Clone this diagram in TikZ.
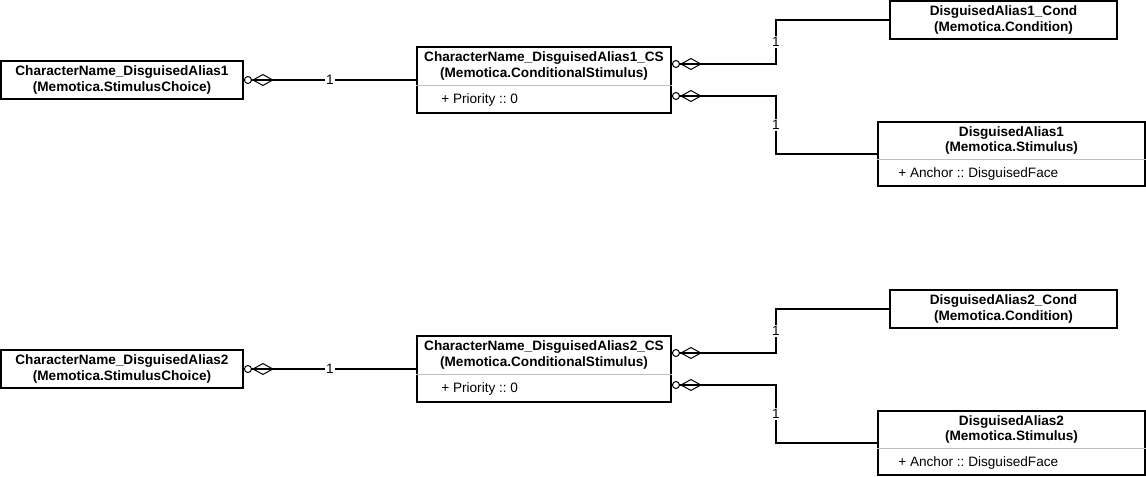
\documentclass[tikz,border=0pt]{standalone}
\usepackage{fontspec}
\setmainfont{Liberation Sans}
\usetikzlibrary{positioning,arrows.meta}

\tikzset{
  cls/.style={draw, line width=1.4pt, inner sep=0pt},
  title/.style={font=\fontsize{10.2}{11.75}\selectfont\bfseries, align=center, inner sep=0pt, minimum height=29.25pt},
  attr/.style={font=\fontsize{10.2}{11.75}\selectfont\frenchspacing, inner sep=0pt, minimum height=20pt},
  sep/.style={draw=black!25, line width=0.6pt},
  agg/.style={line width=1.4pt, {Circle[open,length=6pt,line width=0.75pt]Diamond[open,length=16.5pt,width=9pt,line width=0.75pt]}-},
  mult/.style={font=\fontsize{10.2}{11.75}\selectfont, fill=white, inner sep=1pt},
}

\begin{document}
\begin{tikzpicture}[x=0.75pt, y=-0.75pt]
		\useasboundingbox[fill=white] (0,0) rectangle (1146,477);
		\coordinate (knee) at (776,0);

		% first alias
		\node[cls, title, minimum width=181.5pt, minimum height=28.5pt] (choice1) at (122,80) {CharacterName\_DisguisedAlias1\\(Memotica.StimulusChoice)};
		\node[cls, minimum width=190.5pt, minimum height=49.5pt] (cs1) at (544,80) {};
		\node[title, below=0pt of cs1.north] (cs1t) {CharacterName\_DisguisedAlias1\_CS\\(Memotica.ConditionalStimulus)};
		\node[attr, above right=0pt and 18.75pt of cs1.south west] (cs1a) {+ Priority :: 0};
		\draw[sep] (cs1t.south -| cs1.west) -- (cs1t.south -| cs1.east);

		\node[cls, title, minimum width=170.25pt, minimum height=28.5pt] (cond1) at (1003.5,20) {DisguisedAlias1\_Cond\\(Memotica.Condition)};
		\node[cls, minimum width=200.25pt, minimum height=48pt] (stim1) at (1011.5,154) {};
		\node[title, below=0pt of stim1.north, minimum height=28.5pt] (stim1t) {DisguisedAlias1\\(Memotica.Stimulus)};
		\node[attr, above right=0pt and 15.75pt of stim1.south west, minimum height=19.5pt] (stim1a) {+ Anchor :: DisguisedFace};
		\draw[sep] (stim1t.south -| stim1.west) -- (stim1t.south -| stim1.east);

		\draw[agg] (choice1.east) -- node[mult] {1} (cs1.west);
		\draw[agg] ([yshift=12pt]cs1.east) -- ([yshift=12pt]cs1.east -| knee) -- node[mult] {1} (knee |- cond1.west) -- (cond1.west);
		\draw[agg] ([yshift=-12pt]cs1.east) -- ([yshift=-12pt]cs1.east -| knee) -- node[mult] {1} (knee |- stim1.west) -- (stim1.west);

		% second alias
		\node[cls, title, minimum width=181.5pt, minimum height=28.5pt] (choice2) at (122,369) {CharacterName\_DisguisedAlias2\\(Memotica.StimulusChoice)};
		\node[cls, minimum width=190.5pt, minimum height=49.5pt] (cs2) at (544,369) {};
		\node[title, below=0pt of cs2.north] (cs2t) {CharacterName\_DisguisedAlias2\_CS\\(Memotica.ConditionalStimulus)};
		\node[attr, above right=0pt and 18.75pt of cs2.south west] (cs2a) {+ Priority :: 0};
		\draw[sep] (cs2t.south -| cs2.west) -- (cs2t.south -| cs2.east);

		\node[cls, title, minimum width=170.25pt, minimum height=28.5pt] (cond2) at (1003.5,309) {DisguisedAlias2\_Cond\\(Memotica.Condition)};
		\node[cls, minimum width=200.25pt, minimum height=48pt] (stim2) at (1011.5,443) {};
		\node[title, below=0pt of stim2.north, minimum height=28.5pt] (stim2t) {DisguisedAlias2\\(Memotica.Stimulus)};
		\node[attr, above right=0pt and 15.75pt of stim2.south west, minimum height=19.5pt] (stim2a) {+ Anchor :: DisguisedFace};
		\draw[sep] (stim2t.south -| stim2.west) -- (stim2t.south -| stim2.east);

		\draw[agg] (choice2.east) -- node[mult] {1} (cs2.west);
		\draw[agg] ([yshift=12pt]cs2.east) -- ([yshift=12pt]cs2.east -| knee) -- node[mult] {1} (knee |- cond2.west) -- (cond2.west);
		\draw[agg] ([yshift=-12pt]cs2.east) -- ([yshift=-12pt]cs2.east -| knee) -- node[mult] {1} (knee |- stim2.west) -- (stim2.west);
\end{tikzpicture}
\end{document}
